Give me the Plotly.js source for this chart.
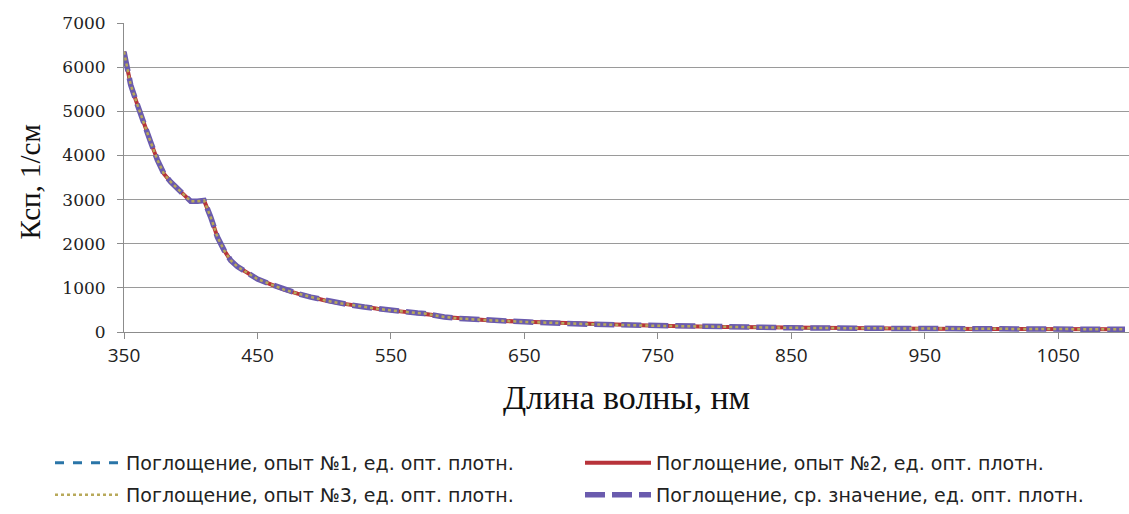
<!DOCTYPE html>
<html>
<head>
<meta charset="utf-8">
<script src="https://cdn.plot.ly/plotly-3.0.1.min.js"></script>
<style>html,body{margin:0;padding:0;background:#fff;}#chart{width:1129px;height:514px;}</style>
</head>
<body>
<div id="chart"></div>
<script>
// Wavelength, nm
const wavelength = [350,355,360,365,370,375,380,385,390,395,400,405,410,415,420,425,430,435,440,445,450,460,470,480,490,500,510,520,530,540,550,560,570,575,580,590,600,620,650,700,750,800,850,900,950,1000,1050,1100];
// Ksp, 1/cm — experiment 1
const exp1 = [6350,5600,5150,4700,4300,3900,3580,3400,3250,3100,2960,2960,2980,2600,2150,1850,1620,1480,1380,1280,1200,1080,960,870,790,720,660,610,565,525,490,455,430,420,390,340,310,270,230,175,140,115,95,85,75,70,65,60];
// experiment 2
const exp2 = [6350,5600,5150,4700,4300,3900,3580,3400,3250,3100,2960,2960,2980,2600,2150,1850,1620,1480,1380,1280,1200,1080,960,870,790,720,660,610,565,525,490,455,430,420,390,340,310,270,230,175,140,115,95,85,75,70,65,60];
// experiment 3
const exp3 = [6350,5600,5150,4700,4300,3900,3580,3400,3250,3100,2960,2960,2980,2600,2150,1850,1620,1480,1380,1280,1200,1080,960,870,790,720,660,610,565,525,490,455,430,420,390,340,310,270,230,175,140,115,95,85,75,70,65,60];
// mean
const mean = [6350,5600,5150,4700,4300,3900,3580,3400,3250,3100,2960,2960,2980,2600,2150,1850,1620,1480,1380,1280,1200,1080,960,870,790,720,660,610,565,525,490,455,430,420,390,340,310,270,230,175,140,115,95,85,75,70,65,60];

const names = [
  'Поглощение, опыт №1, ед. опт. плотн.',
  'Поглощение, опыт №2, ед. опт. плотн.',
  'Поглощение, опыт №3, ед. опт. плотн.',
  'Поглощение, ср. значение, ед. опт. плотн.'
];
const xTicks = [350,450,550,650,750,850,950,1050];
const yTicks = [0,1000,2000,3000,4000,5000,6000,7000];

const traces = [
  {x: wavelength, y: exp1, name: names[0], mode:'lines', line:{color:'#2a75a8', width:3, dash:'dash'}, legend:'legend'},
  {x: wavelength, y: exp2, name: names[1], mode:'lines', line:{color:'#b8333a', width:4}, legend:'legend2'},
  {x: wavelength, y: mean, name: names[3], mode:'lines', line:{color:'#6a5bae', width:5.5, dash:'20px,7px'}, legend:'legend4'},
  {x: wavelength, y: exp3, name: names[2], mode:'lines', line:{color:'#b8a95a', width:2.5, dash:'dot'}, legend:'legend3'}
];

function leg(x, y) {
  return {
    x: x, y: y, orientation:'h', xanchor:'left', yanchor:'middle',
    itemwidth:66,
    font:{family:'DejaVu Sans, sans-serif', size:19, color:'#222'},
    bgcolor:'rgba(0,0,0,0)', itemclick:false
  };
}
const col1 = (50 - 124) / 1005, col2 = (580 - 124) / 1005;
const row1 = (333 - 463) / 310, row2 = (333 - 497) / 310;

const layout = {
  width:1129, height:514,
  margin:{l:124, r:0, t:23, b:181},
  paper_bgcolor:'#fff', plot_bgcolor:'#fff',
  showlegend:true,
  xaxis:{
    range:[350,1103], tickvals:xTicks, ticktext:xTicks.map(String),
    showgrid:false, zeroline:false, showline:true, linecolor:'#8c8c8c', linewidth:1,
    ticks:'outside', ticklen:6, tickcolor:'#8c8c8c',
    tickfont:{family:'Open Sans, sans-serif', size:19, color:'#222'},
    title:{text:'Длина волны, нм', font:{family:'Liberation Serif, serif', size:34, color:'#111'}, standoff:18}
  },
  yaxis:{
    range:[0,7000], tickvals:yTicks, ticktext:yTicks.map(String),
    showgrid:true, gridcolor:'#9a9a9a', gridwidth:1, zeroline:false,
    showline:true, linecolor:'#8c8c8c', linewidth:1,
    ticks:'outside', ticklen:6, tickcolor:'#8c8c8c', ticklabelstandoff:8,
    tickfont:{family:'DejaVu Serif, serif', size:17, color:'#222'}
  },
  annotations:[{
    text:'Ксп, 1/см', textangle:-90, showarrow:false,
    xref:'paper', yref:'paper', x:(30 - 124) / 1005, y:(333 - 183) / 310,
    xanchor:'center', yanchor:'middle',
    font:{family:'Liberation Serif, serif', size:29, color:'#111'}
  }],
  legend: leg(col1, row1),
  legend2: leg(col2, row1),
  legend3: leg(col1, row2),
  legend4: leg(col2, row2)
};

Plotly.newPlot('chart', traces, layout, {staticPlot:true, displayModeBar:false});
</script>
</body>
</html>
